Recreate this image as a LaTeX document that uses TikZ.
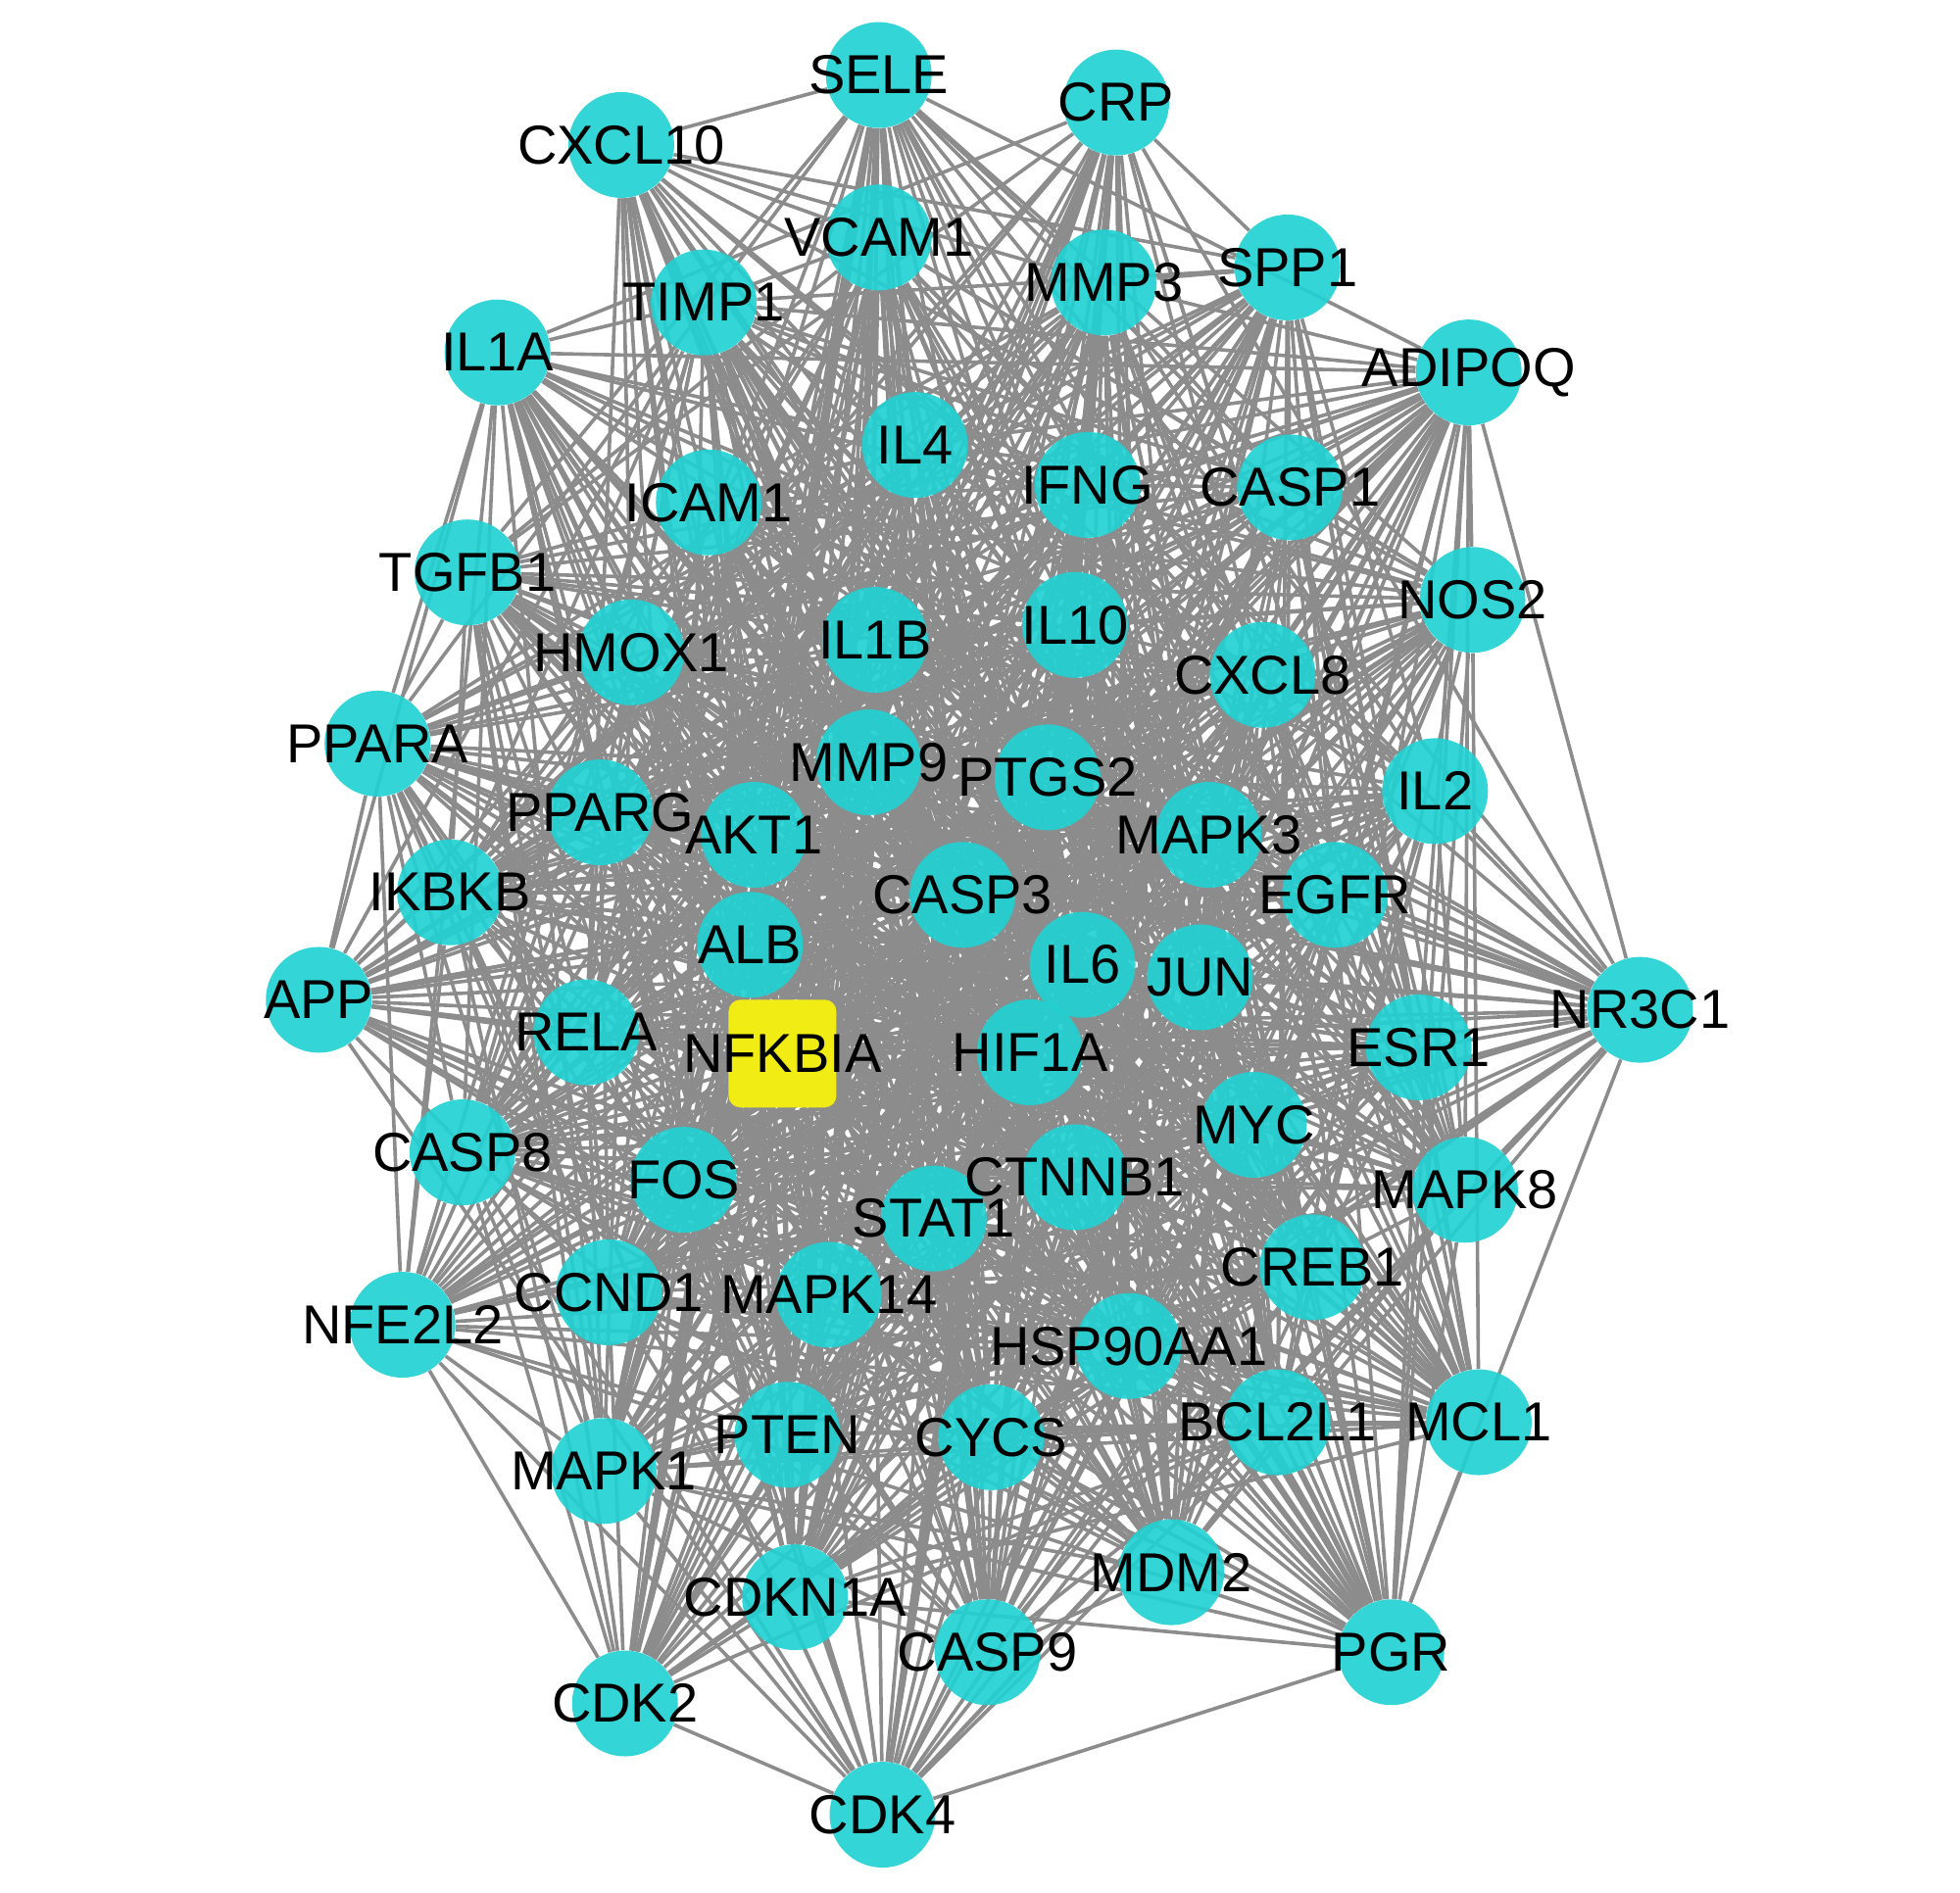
\documentclass[tikz,border=0pt]{standalone}
\usepackage{fontspec}
\setmainfont{Liberation Sans}
\pgfdeclarelayer{edges}
\pgfdeclarelayer{labels}
\pgfsetlayers{edges,main,labels}
\definecolor{genecyan}{RGB}{34,209,210}
\definecolor{hubyellow}{RGB}{240,236,20}
\definecolor{edgegray}{RGB}{140,140,140}
\tikzset{
  gene/.style={circle, fill=genecyan, fill opacity=0.92, draw=none, minimum size=54pt, inner sep=0pt},
  hub/.style={rectangle, rounded corners=6pt, fill=hubyellow, draw=none, minimum size=55pt, inner sep=0pt},
  genelabel/.style={font=\fontsize{28}{30}\selectfont, text=black, inner sep=0pt},
  link/.style={draw=edgegray, line width=1.8pt},
}
\newcommand\genelist{SELE/703/60/gene, CRP/893/82/gene, CXCL10/497/116/gene, VCAM1/703/190/gene,
MMP3/883/226/gene, SPP1/1030/214/gene, TIMP1/563/242/gene, IL1A/398/282/gene, ADIPOQ/1175/298/gene,
IL4/732/356/gene, IFNG/870/388/gene, CASP1/1032/390/gene, ICAM1/567/402/gene, TGFB1/374/458/gene,
NOS2/1178/480/gene, IL1B/700/512/gene, IL10/860/500/gene, HMOX1/505/522/gene, CXCL8/1010/540/gene,
PPARA/302/595/gene, MMP9/695/610/gene, PTGS2/838/622/gene, IL2/1148/633/gene, PPARG/480/650/gene,
AKT1/603/668/gene, MAPK3/967/668/gene, IKBKB/360/714/gene, CASP3/770/716/gene, EGFR/1068/716/gene,
ALB/600/756/gene, IL6/866/772/gene, JUN/960/782/gene, APP/255/800/gene, NR3C1/1312/808/gene,
RELA/469/826/gene, NFKBIA/626/843/hub, HIF1A/824/842/gene, ESR1/1135/838/gene, MYC/1003/900/gene,
CASP8/370/922/gene, FOS/547/944/gene, CTNNB1/860/942/gene, STAT1/747/975/gene, MAPK8/1172/952/gene,
CREB1/1050/1014/gene, CCND1/487/1034/gene, MAPK14/663/1036/gene, NFE2L2/322/1060/gene,
HSP90AA1/903/1077/gene, BCL2L1/1022/1138/gene, MCL1/1183/1138/gene, PTEN/630/1148/gene,
CYCS/793/1150/gene, MAPK1/483/1177/gene, MDM2/937/1258/gene, CDKN1A/636/1278/gene,
CASP9/790/1322/gene, PGR/1113/1322/gene, CDK2/500/1363/gene, CDK4/706/1452/gene}
\begin{document}
\begin{tikzpicture}[x=0.63776pt,y=-0.63776pt]
\useasboundingbox (0,0) rectangle (1568,1514);
% nodes
\foreach \n/\x/\y/\s in \genelist {
  \node[\s] (\n) at (\x,\y) {};
}
% labels
\begin{pgfonlayer}{labels}
\foreach \n/\x/\y/\s in \genelist {
  \node[genelabel] (\n-t) at (\n) {\n};
}
\end{pgfonlayer}
% edges
\begin{pgfonlayer}{edges}
\foreach \a/\ax/\ay/\as [count=\i] in \genelist {
  \pgfmathsetmacro\wa{1-0.3*sqrt(((\ax-770)/545)^2+((\ay-756)/696)^2)}
  \foreach \b/\bx/\by/\bs [count=\j] in \genelist {
    \ifnum\j>\i
      \pgfmathsetmacro\wb{1-0.3*sqrt(((\bx-770)/545)^2+((\by-756)/696)^2)}
      \pgfmathsetmacro\h{frac(abs(313.71*sin(mod(\i*\j,113)*3.17+\i*37.5+\j*61.37)))}
      \pgfmathtruncatemacro\ok{(\h<\wa*\wb)}
      \ifnum\ok=1 \draw[link] (\a) -- (\b); \fi
    \fi
  }
}
\end{pgfonlayer}
\end{tikzpicture}
\end{document}
